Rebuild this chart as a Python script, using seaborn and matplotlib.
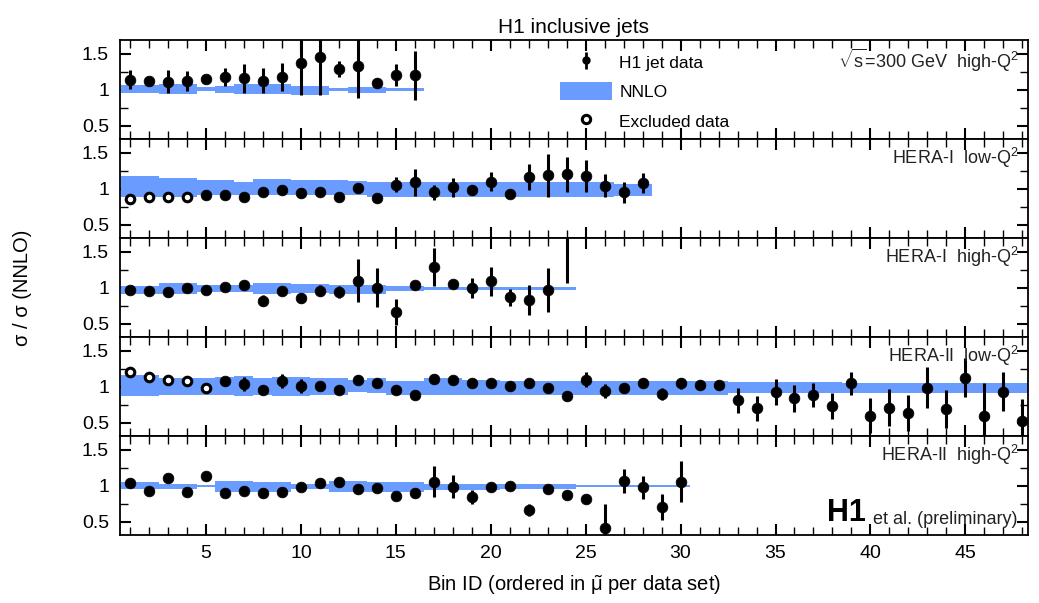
import numpy as np
import matplotlib
matplotlib.use("Agg")
import matplotlib.pyplot as plt
from matplotlib.ticker import MultipleLocator, FixedLocator, FuncFormatter
from matplotlib.patches import Patch
from matplotlib.lines import Line2D
import seaborn as sns

# ---- data: ratio to NNLO per bin ----
# HERA 300 GeV high-Q2
y1 = [1.14, 1.13, 1.11, 1.12, 1.15, 1.18, 1.16, 1.13, 1.18, 1.38, 1.46, 1.29, 1.33, 1.09, 1.21, 1.20]
e1 = [0.13, 0.05, 0.16, 0.14, 0.04, 0.13, 0.20, 0.18, 0.20, 0.45, 0.53, 0.11, 0.45, 0.07, 0.15, 0.34]
hi1 = [1.07, 1.07, 1.08, 1.08, 1.04, 1.06, 1.08, 1.08, 1.08, 1.06, 1.06, 1.02, 1.04, 1.04, 1.03, 1.03]
lo1 = [0.95, 0.95, 0.94, 0.94, 0.98, 0.95, 0.94, 0.94, 0.94, 0.93, 0.93, 0.99, 0.95, 0.95, 0.98, 0.98]
nexcl1 = 0

# HERA-I low-Q2
y2 = [0.86, 0.88, 0.88, 0.89, 0.92, 0.91, 0.88, 0.95, 0.99, 0.94, 0.95, 0.88, 1.01, 0.875,
      1.06, 1.09, 0.95, 1.02, 0.98, 1.10, 0.93, 1.17, 1.19, 1.20, 1.18, 1.04, 0.95, 1.08]
e2 = [0.03, 0.03, 0.03, 0.03, 0.03, 0.03, 0.03, 0.03, 0.03, 0.03, 0.03, 0.03, 0.03, 0.03,
      0.11, 0.19, 0.10, 0.13, 0.07, 0.13, 0.06, 0.18, 0.30, 0.25, 0.22, 0.16, 0.15, 0.14]
hi2 = [1.18, 1.18, 1.15, 1.15, 1.13, 1.13, 1.09, 1.14, 1.14, 1.125, 1.125, 1.125, 1.115, 1.10,
       1.10, 1.10, 1.10, 1.10, 1.10, 1.10, 1.10, 1.09, 1.09, 1.09, 1.09, 1.09, 1.07, 1.07]
lo2 = [0.88, 0.88, 0.88, 0.88, 0.91, 0.91, 0.91, 0.91, 0.91, 0.92, 0.92, 0.92, 0.92, 0.89,
       0.89, 0.89, 0.89, 0.89, 0.89, 0.89, 0.89, 0.88, 0.88, 0.88, 0.88, 0.88, 0.90, 0.90]
nexcl2 = 4

# HERA-I high-Q2
y3 = [0.97, 0.96, 0.94, 1.00, 0.97, 1.01, 1.04, 0.82, 0.95, 0.86, 0.96, 0.94, 1.10, 1.00,
      0.66, 1.04, 1.29, 1.06, 1.00, 1.09, 0.87, 0.83, 0.97, 1.85]
e3 = [0.03, 0.03, 0.03, 0.03, 0.03, 0.03, 0.03, 0.08, 0.03, 0.07, 0.08, 0.08, 0.30, 0.27,
      0.18, 0.05, 0.27, 0.04, 0.14, 0.20, 0.12, 0.21, 0.31, 0.78]
hi3 = [1.03, 1.03, 1.065, 1.065, 1.04, 1.04, 1.04, 1.065, 1.065, 1.055, 1.055, 1.04, 1.04, 1.04,
       1.03, 1.03, 1.01, 1.01, 1.01, 1.01, 1.01, 1.01, 1.01, 1.01]
lo3 = [0.92, 0.92, 0.92, 0.92, 0.94, 0.94, 0.94, 0.92, 0.92, 0.93, 0.93, 0.92, 0.92, 0.92,
       0.95, 0.95, 0.97, 0.97, 0.97, 0.97, 0.97, 0.97, 0.97, 0.97]
nexcl3 = 0

# HERA-II low-Q2
y4 = [1.20, 1.14, 1.10, 1.08, 0.99, 1.08, 1.04, 0.95, 1.08, 1.01, 1.01, 0.96, 1.09, 1.06,
      0.96, 0.89, 1.11, 1.10, 1.06, 1.05, 1.01, 1.05, 0.99, 0.87, 1.10, 0.94, 0.98, 1.06,
      0.90, 1.05, 1.03, 1.02, 0.81, 0.70, 0.93, 0.84, 0.89, 0.73, 1.05, 0.60, 0.71, 0.64,
      0.99, 0.69, 1.13, 0.60, 0.93, 0.53]
e4 = [0.03, 0.07, 0.03, 0.03, 0.03, 0.03, 0.10, 0.03, 0.10, 0.10, 0.03, 0.03, 0.07, 0.03,
      0.03, 0.03, 0.06, 0.03, 0.03, 0.03, 0.03, 0.03, 0.03, 0.03, 0.10, 0.10, 0.03, 0.07,
      0.08, 0.08, 0.06, 0.03, 0.17, 0.17, 0.18, 0.19, 0.17, 0.18, 0.16, 0.25, 0.26, 0.25,
      0.28, 0.27, 0.27, 0.45, 0.27, 0.30]
hi4 = [1.16, 1.16, 1.13, 1.13, 1.13, 1.14, 1.15, 1.12, 1.14, 1.14, 1.12, 1.12, 1.10, 1.13,
       1.08, 1.08, 1.12, 1.12, 1.10, 1.10, 1.08, 1.08, 1.08, 1.08, 1.08, 1.08, 1.08, 1.08,
       1.08, 1.08, 1.08, 1.08, 1.07, 1.07, 1.07, 1.07, 1.07, 1.07, 1.06, 1.06, 1.06, 1.06,
       1.06, 1.06, 1.06, 1.06, 1.06, 1.06]
lo4 = [0.87, 0.87, 0.88, 0.88, 0.88, 0.88, 0.87, 0.88, 0.87, 0.87, 0.89, 0.89, 0.93, 0.91,
       0.88, 0.88, 0.89, 0.89, 0.88, 0.88, 0.89, 0.89, 0.89, 0.89, 0.89, 0.89, 0.89, 0.89,
       0.89, 0.89, 0.89, 0.89, 0.91, 0.91, 0.91, 0.91, 0.91, 0.91, 0.92, 0.92, 0.92, 0.92,
       0.92, 0.92, 0.92, 0.92, 0.92, 0.92]
nexcl4 = 5

# HERA-II high-Q2
y5 = [1.04, 0.93, 1.11, 0.91, 1.14, 0.90, 0.93, 0.90, 0.92, 0.99, 1.04, 1.06, 0.96, 0.97,
      0.86, 0.90, 1.06, 0.99, 0.84, 0.98, 1.00, 0.665, 0.95, 0.875, 0.81, 0.41, 1.07, 0.98,
      0.70, 1.06]
e5 = [0.03, 0.03, 0.03, 0.03, 0.03, 0.03, 0.03, 0.03, 0.03, 0.03, 0.03, 0.03, 0.03, 0.03,
      0.03, 0.03, 0.21, 0.16, 0.10, 0.03, 0.03, 0.08, 0.03, 0.03, 0.03, 0.33, 0.17, 0.16,
      0.18, 0.29]
hi5 = [1.05, 1.05, 1.03, 1.03, 1.015, 1.07, 1.07, 1.06, 1.06, 1.03, 1.03, 1.07, 1.07, 1.06,
       1.06, 1.06, 1.03, 1.03, 1.03, 1.03, 1.03, 1.03, 1.03, 1.03, 1.005, 1.005, 1.005, 1.005,
       1.005, 1.005]
lo5 = [0.95, 0.95, 0.96, 0.96, 0.985, 0.92, 0.92, 0.92, 0.92, 0.96, 0.96, 0.91, 0.91, 0.92,
       0.92, 0.92, 0.94, 0.94, 0.94, 0.94, 0.96, 0.96, 0.96, 0.96, 0.98, 0.98, 0.98, 0.98,
       0.98, 0.98]
nexcl5 = 0

panels = [
    (y1, e1, hi1, lo1, nexcl1, r"$\sqrt{\mathregular{s}}$=300 GeV  high-Q$^2$"),
    (y2, e2, hi2, lo2, nexcl2, r"HERA-I  low-Q$^2$"),
    (y3, e3, hi3, lo3, nexcl3, r"HERA-I  high-Q$^2$"),
    (y4, e4, hi4, lo4, nexcl4, r"HERA-II  low-Q$^2$"),
    (y5, e5, hi5, lo5, nexcl5, r"HERA-II  high-Q$^2$"),
]

band_col = "#6a9bff"

sns.set_style("ticks")
plt.rcParams["font.family"] = ["Liberation Sans", "DejaVu Sans"]
plt.rcParams["mathtext.fontset"] = "custom"
plt.rcParams["mathtext.rm"] = "Liberation Sans"
plt.rcParams["mathtext.it"] = "Liberation Sans:italic"
plt.rcParams["mathtext.sf"] = "Liberation Sans"
for k in ["text.color", "axes.labelcolor", "xtick.color", "ytick.color", "axes.edgecolor"]:
    plt.rcParams[k] = "black"

fig, axes = plt.subplots(5, 1, figsize=(10.39, 6.03), dpi=100, sharex=True)
fig.subplots_adjust(left=0.1155, right=0.9894, top=0.9337, bottom=0.1128, hspace=0)

for ax, (y, e, hi, lo, nex, lab) in zip(axes, panels):
    x = np.arange(1, len(y) + 1)
    y = np.array(y)
    e = np.array(e)
    hi = np.array(hi)
    lo = np.array(lo)
    ax.bar(x, hi - lo, bottom=lo, width=1.0, color=band_col, linewidth=0, zorder=1)
    ax.errorbar(x, y, yerr=e, fmt="none", ecolor="k", elinewidth=2.2, capsize=0, zorder=2)
    sns.scatterplot(x=x[nex:], y=y[nex:], ax=ax, color="k", s=60, edgecolor="k",
                    linewidth=0.5, zorder=3, legend=False)
    if nex > 0:
        sns.scatterplot(x=x[:nex], y=y[:nex], ax=ax, s=38, facecolors="white",
                        edgecolors="black", linewidth=2.2, zorder=3, legend=False)
    ax.set_ylim(0.315, 1.695)
    ax.set_xlim(0.47, 48.3)
    ax.yaxis.set_major_locator(FixedLocator([0.5, 1.0, 1.5]))
    ax.yaxis.set_minor_locator(FixedLocator([0.75, 1.25]))
    ax.yaxis.set_major_formatter(FuncFormatter(lambda v, p: f"{v:g}"))
    ax.xaxis.set_major_locator(MultipleLocator(5))
    ax.xaxis.set_minor_locator(MultipleLocator(1))
    ax.tick_params(which="both", direction="in", top=True, right=True, labelsize=14,
                   colors="black")
    ax.tick_params(which="major", length=8, width=1.5)
    ax.tick_params(which="minor", length=6, width=1.0)
    ax.tick_params(axis="y", pad=8)
    ax.tick_params(axis="x", pad=7)
    for sp in ax.spines.values():
        sp.set_linewidth(1.3)
        sp.set_color("k")
    ax.text(0.99, 0.93, lab, transform=ax.transAxes, ha="right", va="top", fontsize=13,
            color="#222222")

# legend in top panel
ax0 = axes[0]
h_data = ax0.errorbar([np.nan], [np.nan], yerr=[0.1], fmt="o", color="k", ms=5, elinewidth=2)
h_band = Patch(facecolor=band_col, edgecolor="none")
h_excl = Line2D([], [], marker="o", ls="none", mfc="white", mec="k", mew=2.2, ms=6)
ax0.legend([h_data, h_band, h_excl], ["H1 jet data", "NNLO", "Excluded data"],
           loc="upper left", bbox_to_anchor=(0.485, 0.87), frameon=False, fontsize=12.5,
           borderpad=0, borderaxespad=0, handlelength=3.0, handleheight=1.2,
           handletextpad=0.4, labelspacing=0.68)

ax0.set_title("H1 inclusive jets", fontsize=15, pad=5)

# H1 logo text in bottom panel
axl = axes[-1]
t = axl.text(0.988, 0.07, "et al. (preliminary)", transform=axl.transAxes,
             ha="right", va="bottom", fontsize=13, color="#222222")
axl.annotate("H1", xy=(0, 0), xycoords=t, xytext=(-5, 0), textcoords="offset points",
             ha="right", va="bottom", fontsize=22, fontweight="bold")

axl.set_xlabel(r"Bin ID (ordered in $\tilde{\mathrm{\mu}}$ per data set)", fontsize=14.5,
               labelpad=8)
fig.text(0.022, 0.523, "σ / σ (NNLO)", rotation=90, ha="center", va="center",
         fontsize=14.5)

fig.savefig("out.png", dpi=100)
